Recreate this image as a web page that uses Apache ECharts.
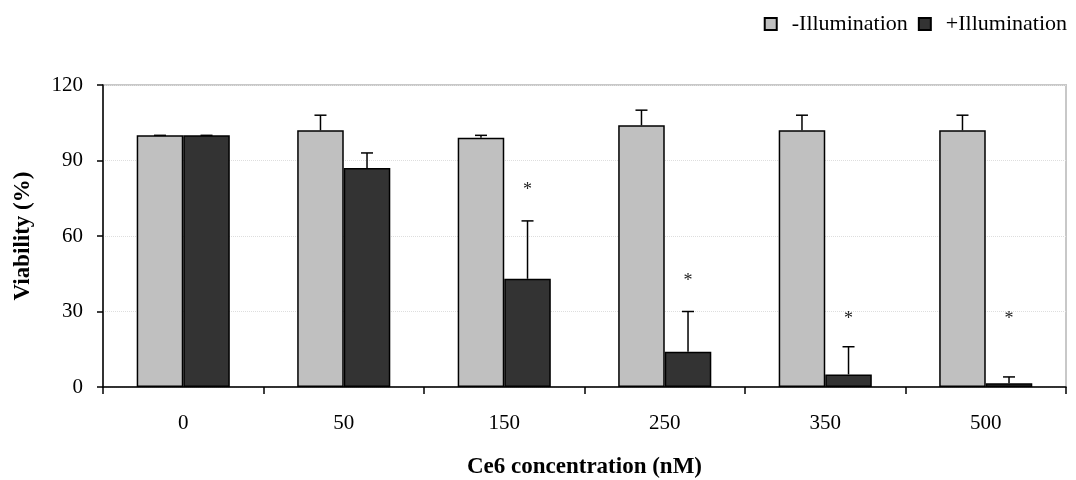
<!DOCTYPE html>
<html>
<head>
<meta charset="utf-8">
<script src="https://cdn.jsdelivr.net/npm/echarts@6/dist/echarts.min.js"></script>
<style>
  html, body { margin: 0; padding: 0; background: #fff; }
  #chart { width: 1076px; height: 480px; }
</style>
</head>
<body>
<div id="chart"></div>
<script>
var font = "'Liberation Serif', 'Times New Roman', serif";

// data
var categories = ['0', '50', '150', '250', '350', '500'];
var darkName = '-Illumination';
var lightName = '+Illumination';
var noLight = [100, 102, 99, 104, 102, 102];
var noLightErr = [0, 6, 1, 6, 6, 6];
var withLight = [100, 87, 43, 14, 5, 1.5];
var withLightErr = [0, 6, 23, 16, 11, 2.5];
var starAt = [null, null, 78, 42, 27, 27];   // height of the * marks
var yTicks = [0, 30, 60, 90, 120];

var barShare = 0.29; // bar width as part of the category band

var myChart = echarts.init(document.getElementById('chart'));

function errorBars(offsetSign) {
  return function (params, api) {
    var i = api.value(0), v = api.value(1), e = api.value(2);
    var band = api.size([1, 0])[0];
    var base = api.coord([i, v]);
    var top = api.coord([i, v + e]);
    var cx = base[0] + offsetSign * band * barShare / 2;
    var st = { stroke: '#000', lineWidth: 1.5 };
    return {
      type: 'group',
      children: [
        { type: 'line', shape: { x1: cx, y1: base[1], x2: cx, y2: top[1] }, style: st },
        { type: 'line', shape: { x1: cx - 6, y1: top[1], x2: cx + 6, y2: top[1] }, style: st }
      ]
    };
  };
}

function stars(params, api) {
  var i = api.value(0), v = api.value(1);
  var band = api.size([1, 0])[0];
  var p = api.coord([i, v]);
  return {
    type: 'text',
    x: p[0] + band * barShare / 2,
    y: p[1],
    style: { text: '*', fill: '#222', font: '18px ' + font, align: 'center', verticalAlign: 'middle' }
  };
}

var errA = noLight.map(function (v, i) { return [i, v, noLightErr[i]]; });
var errB = withLight.map(function (v, i) { return [i, v, withLightErr[i]]; });
var starData = [];
starAt.forEach(function (v, i) { if (v != null) starData.push([i, v]); });

var option = {
  animation: false,
  textStyle: { fontFamily: font },
  grid: {
    left: 103, right: 10, top: 85, bottom: 93,
    outerBoundsMode: 'none',
    show: true, borderColor: '#c8c8c8', borderWidth: 2
  },
  legend: {
    data: [darkName, lightName],
    right: 4, top: 8,
    icon: 'rect', itemWidth: 12, itemHeight: 12, itemGap: 10,
    textStyle: { fontSize: 22, color: '#000', fontFamily: font, padding: [0, 0, 0, 10] }
  },
  xAxis: {
    type: 'category',
    data: categories,
    name: 'Ce6 concentration (nM)',
    nameLocation: 'middle',
    nameGap: 69,
    nameTextStyle: { fontSize: 23, fontWeight: 'bold', color: '#000', fontFamily: font },
    axisLine: { lineStyle: { color: '#000', width: 1.5 } },
    axisTick: { show: true, length: 7, lineStyle: { color: '#000', width: 1.5 } },
    axisLabel: { fontSize: 21, color: '#000', margin: 26, fontFamily: font },
    splitLine: { show: false }
  },
  yAxis: {
    type: 'value',
    min: yTicks[0], max: yTicks[yTicks.length - 1], interval: 30,
    name: 'Viability (%)',
    nameLocation: 'middle',
    nameGap: 68,
    nameTextStyle: { fontSize: 23, fontWeight: 'bold', color: '#000', fontFamily: font },
    axisLine: { show: true, lineStyle: { color: '#000', width: 1.5 } },
    axisTick: { show: true, length: 6, lineStyle: { color: '#000', width: 1.5 } },
    axisLabel: { fontSize: 21, color: '#000', margin: 20, fontFamily: font },
    splitLine: { show: true, lineStyle: { color: '#dedede', width: 1, type: 'dotted' } }
  },
  series: [
    {
      name: darkName, type: 'bar', data: noLight,
      barWidth: (barShare * 100) + '%', barGap: '0%',
      itemStyle: { color: '#c0c0c0', borderColor: '#000', borderWidth: 1.5 }
    },
    {
      name: lightName, type: 'bar', data: withLight,
      barWidth: (barShare * 100) + '%', barGap: '0%',
      itemStyle: { color: '#333333', borderColor: '#000', borderWidth: 1.5 }
    },
    { type: 'custom', renderItem: errorBars(-1), data: errA, z: 5, silent: true },
    { type: 'custom', renderItem: errorBars(1), data: errB, z: 5, silent: true },
    { type: 'custom', renderItem: stars, data: starData, z: 5, silent: true }
  ]
};

option && myChart.setOption(option);

window.onresize = function () { myChart.resize(); };
</script>
</body>
</html>
